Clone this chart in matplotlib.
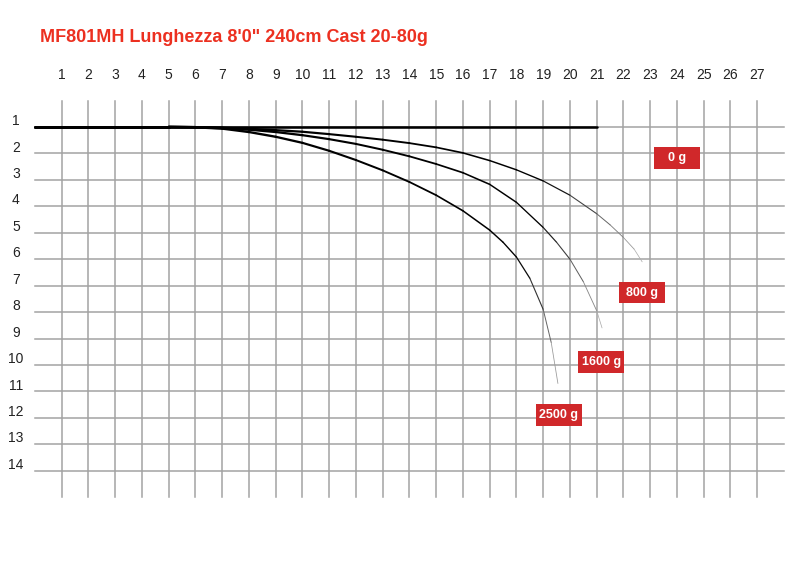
import numpy as np
import matplotlib.pyplot as plt
from matplotlib.collections import LineCollection
from matplotlib.patches import Rectangle

plt.rcParams['font.family'] = ['Liberation Sans', 'DejaVu Sans']

title = "MF801MH Lunghezza 8'0\" 240cm Cast 20-80g"

# grid numbering
col_labels = list(range(1, 28))
row_labels = list(range(1, 15))

# deflection curves (column, row)
loads = ["0 g", "800 g", "1600 g", "2500 g"]
x_0g = [0, 21]
y_0g = [1, 1]
x_800 = [0, 5, 6, 7, 8, 9, 10, 11, 12, 13, 14, 15, 16, 17, 18, 19, 20, 21, 21.5, 22, 22.4, 22.7]
y_800 = [1, 1, 1.01, 1.03, 1.07, 1.12, 1.18, 1.27, 1.37, 1.48, 1.61, 1.77, 1.98, 2.27, 2.62, 3.04,
         3.58, 4.28, 4.7, 5.18, 5.62, 6.1]
x_1600 = [0, 5, 6, 7, 8, 9, 10, 11, 12, 13, 14, 15, 16, 17, 18, 19, 19.5, 20, 20.5, 21, 21.2]
y_1600 = [1, 1, 1.01, 1.04, 1.1, 1.19, 1.31, 1.46, 1.64, 1.86, 2.11, 2.4, 2.73, 3.17, 3.85, 4.8,
          5.36, 6.0, 6.85, 7.95, 8.6]
x_2500 = [0, 5, 6, 7, 8, 9, 10, 11, 12, 13, 14, 15, 16, 17, 17.5, 18, 18.5, 19, 19.3, 19.55]
y_2500 = [1, 1, 1.01, 1.06, 1.19, 1.37, 1.6, 1.9, 2.25, 2.64, 3.08, 3.58, 4.17, 4.9, 5.36, 5.92,
          6.72, 7.9, 9.15, 10.7]

# where the red tags sit
tag_x = [24.0, 22.69, 21.17, 19.58]
tag_y = [2.18, 7.26, 9.88, 11.89]

fig = plt.figure(figsize=(8, 5.65), dpi=100)
ax = fig.add_axes([0, 0, 1, 1])
ax.set_xlim(-1.3065, 28.6)
ax.set_ylim(17.566, -3.803)
ax.axis('off')

grid_color = '#a3a3a3'
for c in col_labels:
    ax.plot([c, c], [0, 15], color=grid_color, lw=1.1, zorder=1)
    ax.text(c, -0.97, str(c), ha='center', va='center', fontsize=10, color='#222222')
for r in row_labels:
    ax.plot([0, 28], [r, r], color=grid_color, lw=1.1, zorder=1)
    ax.text(-0.71, r - 0.22, str(r), ha='center', va='center', fontsize=10, color='#222222')


def faded_line(xs, ys, fade_start=0.8, w0=2.0, w1=0.5):
    pts = np.column_stack([xs, ys])
    segs = np.stack([pts[:-1], pts[1:]], axis=1)
    seg_len = np.hypot(np.diff(xs), np.diff(ys))
    t = (np.cumsum(seg_len) - seg_len / 2) / seg_len.sum()
    widths = w0 + (w1 - w0) * t ** 1.5
    g = np.clip((t - fade_start) / (1 - fade_start), 0, 1) * 0.72
    colors = [(v, v, v) for v in g]
    lc = LineCollection(segs, colors=colors, linewidths=widths, capstyle='round', zorder=3)
    ax.add_collection(lc)


faded_line(x_0g, y_0g, fade_start=0.8, w0=2.2, w1=1.2)
faded_line(x_800, y_800)
faded_line(x_1600, y_1600)
faded_line(x_2500, y_2500)

box_w, box_h = 1.72, 0.83
for lab, tx, ty in zip(loads, tag_x, tag_y):
    ax.add_patch(Rectangle((tx - box_w / 2, ty - box_h / 2), box_w, box_h,
                           facecolor='#d0282a', edgecolor='none', zorder=4))
    ax.text(tx, ty, lab, ha='center', va='center', color='white',
            fontsize=9, fontweight='bold', zorder=5)

fig.text(40 / 800, 1 - 37 / 565, title, ha='left', va='center', fontsize=13,
         fontweight='bold', color='#ec3020')

fig.savefig('out.png', dpi=100)
